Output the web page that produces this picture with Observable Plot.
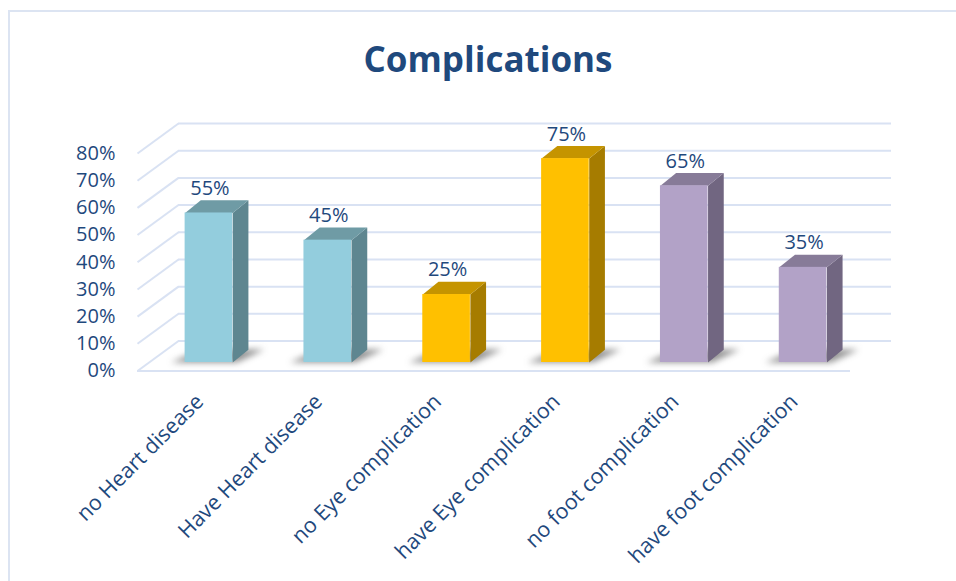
<!DOCTYPE html>
<html>
<head>
<meta charset="utf-8">
<script src="https://cdn.jsdelivr.net/npm/d3@7"></script>
<script src="https://cdn.jsdelivr.net/npm/@observablehq/plot@0.6"></script>
<style>
  html, body { margin: 0; padding: 0; background: #ffffff; }
  #wrap { position: relative; width: 956px; height: 581px; overflow: hidden; font-family: "Open Sans", sans-serif; }
  #frame { position: absolute; left: 8px; top: 10px; width: 1000px; height: 700px; border: 2px solid #DCE4F2; box-sizing: border-box; pointer-events: none; }
  #title { height: 100px; box-sizing: border-box; padding-top: 35px; text-align: center; font-weight: 700; font-size: 35px; line-height: normal; color: #1F497D; padding-left: 20px; }
  #chart svg { display: block; }
</style>
</head>
<body>
<div id="wrap">
  <div id="frame"></div>
  <div id="title">Complications</div>
  <div id="chart"></div>
</div>
<script>
// ---- data ----
const categories = ["no Heart disease", "Have Heart disease", "no Eye complication", "have Eye complication", "no foot complication", "have foot complication"];
const values = [0.55, 0.45, 0.25, 0.75, 0.65, 0.35];
const groups = ["heart", "heart", "eye", "eye", "foot", "foot"];
const yTicks = [0, 0.1, 0.2, 0.3, 0.4, 0.5, 0.6, 0.7, 0.8];

// ---- styles ----
const palette = {
  heart: {front: "#93CDDD", top: "#6F9BA5", side: "#5E8690"},
  eye:   {front: "#FFC000", top: "#C59400", side: "#A67C00"},
  foot:  {front: "#B2A2C7", top: "#877B98", side: "#716681"}
};
const textColor = "#1F497D";
const gridColor = "#D9E2F3";

// ---- layout ----
const W = 956, H = 481, ML = 137, MR = 106, MT = 53, MB = 210.5;
const kx = (W - ML - MR) / 6;      // px per category unit
const ky = (H - MT - MB) / 0.8;    // px per 100%
const px = p => p / kx, py = p => p / ky;   // pixel offsets -> data units

// oblique 3D geometry (pixels)
const wall = {dx: 41, dy: 30};     // depth of the back wall
const plane = {dx: 12, dy: 8.5};   // bars' front plane
const depth = {dx: 15.7, dy: 12.7};// bar depth
const halfW = 23.8;                // half bar width

const rows = categories.map((c, i) => ({i, cat: c, v: values[i], g: groups[i]}));

const fronts = [], sides = [], tops = [], shadows = [];
rows.forEach(r => {
  const xl = r.i + px(plane.dx - halfW), xr = r.i + px(plane.dx + halfW);
  const y0 = py(plane.dy), yt = r.v + py(plane.dy);
  const ddx = px(depth.dx), ddy = py(depth.dy);
  const col = palette[r.g];
  fronts.push({x1: xl, x2: xr, y1: y0, y2: yt, fill: col.front});
  [[xr, y0], [xr + ddx, y0 + ddy], [xr + ddx, yt + ddy], [xr, yt]]
    .forEach(([x, y]) => sides.push({id: r.i, x, y, fill: col.side}));
  [[xl, yt], [xr, yt], [xr + ddx, yt + ddy], [xl + ddx, yt + ddy]]
    .forEach(([x, y]) => tops.push({id: r.i, x, y, fill: col.top}));
  [[xl - px(14), y0], [xr + px(4), y0], [xr + ddx + px(16), y0 + py(13)], [xl + ddx, y0 + py(13)]]
    .forEach(([x, y]) => shadows.push({id: r.i, x, y}));
});

const pct = d => Math.round(d * 100) + "%";

const chart = Plot.plot({
  width: W, height: H,
  marginLeft: ML, marginRight: MR, marginTop: MT, marginBottom: MB,
  style: {fontFamily: "'Open Sans', sans-serif", fontSize: "20px", color: textColor, background: "transparent", overflow: "visible"},
  x: {type: "linear", domain: [-0.5, 5.5], axis: null},
  y: {domain: [0, 0.8], ticks: yTicks, tickFormat: pct, tickSize: 0, tickPadding: 22, label: null},
  color: {type: "identity"},
  marks: [
    // walls / gridlines
    Plot.link(yTicks, {x1: -0.5, x2: -0.5 + px(wall.dx), y1: d => d, y2: d => d + py(wall.dy), stroke: gridColor, strokeWidth: 2}),
    Plot.ruleY(yTicks, {y: d => d + py(wall.dy), x1: -0.5 + px(wall.dx), x2: 5.5 + px(wall.dx), stroke: gridColor, strokeWidth: 2}),
    Plot.ruleY([0], {x1: -0.5, x2: 5.5, stroke: gridColor, strokeWidth: 2}),
    // shadows
    Plot.line(shadows, {x: "x", y: "y", z: "id", fill: "#3a3a3a", fillOpacity: 0.55, stroke: "none", curve: "linear", imageFilter: "blur(3px)"}),
    // bars
    Plot.line(sides, {x: "x", y: "y", z: "id", fill: "fill", stroke: "none", curve: "linear"}),
    Plot.line(tops, {x: "x", y: "y", z: "id", fill: "fill", stroke: "none", curve: "linear"}),
    Plot.rect(fronts, {x1: "x1", x2: "x2", y1: "y1", y2: "y2", fill: "fill"}),
    // value labels
    Plot.text(rows, {x: "i", y: "v", text: d => pct(d.v), dx: 13, dy: -33, fontSize: 20, fill: textColor}),
    // category labels
    Plot.text(rows, {x: "i", y: 0, text: "cat", rotate: -45, textAnchor: "end", lineAnchor: "middle", dx: 3, dy: 27, fontSize: 21.5, fill: textColor})
  ]
});
document.getElementById("chart").appendChild(chart);
</script>
</body>
</html>
